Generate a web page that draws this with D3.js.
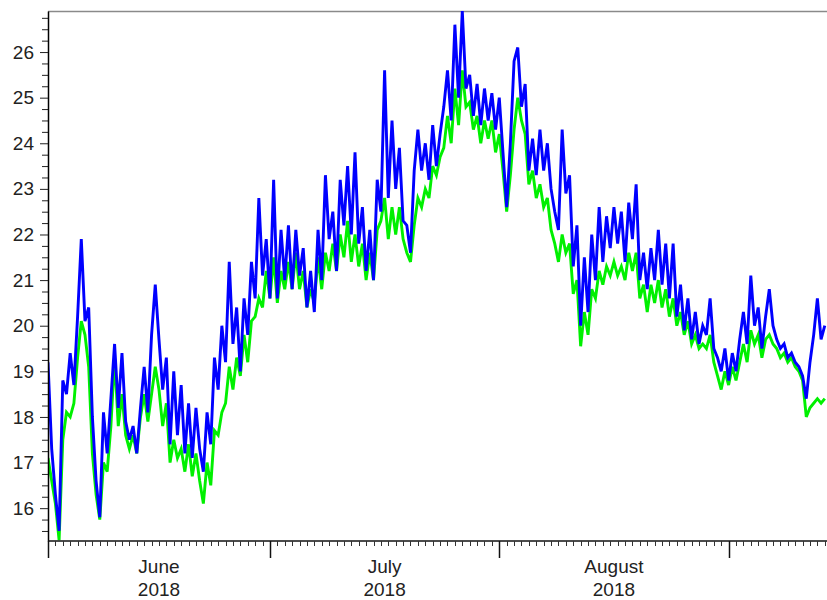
<!DOCTYPE html>
<html>
<head>
<meta charset="utf-8">
<script src="https://cdn.jsdelivr.net/npm/d3@7"></script>
<style>
  html, body { margin: 0; padding: 0; background: #fff; }
  svg { display: block; font-family: Arial, "Liberation Sans", sans-serif; }
</style>
</head>
<body>
<div id="chart"></div>
<script>
// data: two temperature series, one reading every 12 hours from 1 June 2018 (UTC)
var START = Date.UTC(2018, 5, 1);
var STEP_HOURS = 12;

var blueValues = [
  19.2, 17.3, 16.3, 15.5, 18.8, 18.5, 19.4, 18.7, 20.2, 21.9,
  20.1, 20.4, 18.0, 16.6, 15.8, 18.1, 17.2, 18.4, 19.6, 18.2,
  19.4, 17.9, 17.5, 17.8, 17.2, 18.2, 19.1, 18.1, 19.8, 20.9,
  19.7, 18.6, 19.3, 17.4, 19.0, 17.6, 18.7, 17.2, 18.3, 17.1,
  18.2, 17.3, 16.8, 18.1, 17.4, 19.3, 18.6, 20.0, 19.2, 21.4,
  19.6, 20.4, 19.0, 20.6, 19.8, 21.4, 20.6, 22.8, 21.1, 21.9,
  20.6, 23.2, 20.6, 22.1, 21.0, 22.2, 20.8, 22.1, 21.1, 21.7,
  20.4, 21.2, 20.3, 22.1, 21.0, 23.3, 21.9, 22.5, 21.2, 23.2,
  22.2, 23.5, 22.0, 23.8, 21.8, 22.6, 21.2, 22.1, 21.0, 23.2,
  22.5, 25.6, 22.8, 24.5, 23.0, 23.9, 22.3, 22.2, 21.6, 23.4,
  24.3, 23.4, 24.0, 23.2, 24.4, 23.5, 24.2, 24.8, 25.6, 24.5,
  26.6, 25.0, 26.9, 25.2, 25.5, 24.6, 25.3, 24.4, 25.2, 24.5,
  25.1, 24.3, 25.0, 23.8, 22.6, 24.0, 25.8, 26.1, 24.8, 25.3,
  23.4, 24.1, 23.3, 24.3, 23.4, 24.0, 23.0, 22.5, 22.1, 24.3,
  22.9, 23.3, 21.3, 22.2, 20.0, 21.5, 20.3, 22.0, 21.0, 22.6,
  21.4, 22.4, 21.7, 22.6, 21.8, 22.5, 21.4, 22.7, 21.9, 23.1,
  21.0, 21.6, 20.8, 21.7, 21.0, 22.1, 20.9, 21.8, 20.6, 21.8,
  20.2, 20.9, 19.9, 20.6, 19.7, 20.3, 19.6, 20.0, 19.8, 20.6,
  19.5, 19.3, 19.0, 19.5, 18.8, 19.4, 19.0, 19.7, 20.3, 19.6,
  21.1, 20.0, 20.4, 19.5, 20.2, 20.8, 20.0, 19.7, 19.5, 19.6,
  19.3, 19.4, 19.2, 19.1, 18.9, 18.4, 19.2, 19.8, 20.6, 19.7,
  20.0
];

var greenValues = [
  17.1, 16.6, 16.1, 15.3, 17.5, 18.1, 18.0, 18.3, 19.3, 20.1,
  19.8, 19.1, 17.2, 16.3, 15.75, 17.0, 16.8, 17.8, 19.3, 17.8,
  18.5, 17.6, 17.3, 17.6, 17.2, 18.0, 18.5, 17.9, 18.5, 19.1,
  18.6, 17.8, 18.3, 17.0, 17.5, 17.1, 17.3, 16.8, 17.4, 16.7,
  17.2, 16.6, 16.1, 17.0, 16.5, 17.7, 17.6, 18.1, 18.3, 19.1,
  18.6, 19.3, 18.9, 19.8, 19.2, 20.1, 20.2, 20.6, 20.4, 21.2,
  20.6, 21.5, 20.5, 21.2, 20.8, 21.4, 20.8, 21.6, 20.8, 21.2,
  20.4, 20.8, 20.5, 21.5, 20.8, 21.6, 21.2, 21.8, 21.2, 22.0,
  21.5, 22.3, 21.4, 22.0, 21.3, 21.8, 21.0, 21.6, 21.0, 22.1,
  22.3, 22.8, 21.9, 22.6, 22.0, 22.6, 21.9, 21.6, 21.4, 22.2,
  22.8, 22.6, 23.0, 22.8, 23.5, 23.3, 23.7, 23.9, 24.6, 24.0,
  25.2, 24.4, 25.6, 24.8, 24.9, 24.3, 24.6, 24.0, 24.5, 24.1,
  24.5, 23.8, 24.2, 23.4, 22.5, 23.3, 24.3, 25.0, 24.5, 24.2,
  23.1, 23.4, 22.8, 23.1, 22.6, 22.8, 22.1, 21.8, 21.4, 22.0,
  21.6, 21.8, 20.7, 21.0, 19.55, 20.3, 19.8, 20.8, 20.6, 21.2,
  20.9, 21.3, 21.1, 21.4, 21.1, 21.3, 21.0, 21.6, 21.2, 21.6,
  20.6, 20.9, 20.3, 20.9, 20.5, 21.0, 20.4, 20.8, 20.2, 20.6,
  20.0, 20.3, 19.8, 20.1, 19.6, 19.8, 19.5, 19.6, 19.5, 19.8,
  19.2, 18.9, 18.6, 19.0, 18.7, 19.1, 18.8, 19.2, 19.6, 19.2,
  19.9, 19.6, 19.8, 19.3, 19.7, 19.8, 19.6, 19.5, 19.3, 19.4,
  19.2, 19.3, 19.1, 19.0, 18.8, 18.0, 18.2, 18.3, 18.4, 18.3,
  18.4
];

var monthLabels = ['June', 'July', 'August'];
var yearLabel = '2018';
var yTickValues = [16, 17, 18, 19, 20, 21, 22, 23, 24, 25, 26];

// layout
var WIDTH = 827, HEIGHT = 600,
    PLOT_LEFT = 48, PLOT_RIGHT = 827,
    PLOT_TOP = 11, PLOT_BOTTOM = 541,
    Y_MIN = 15.28, Y_MAX = 26.9,
    X_END_DAYS = 105.3;

var svg = d3.select('#chart').append('svg')
    .attr('width', WIDTH)
    .attr('height', HEIGHT);

var DAY = 24 * 3600 * 1000;
var x = d3.scaleUtc()
    .domain([new Date(START), new Date(START + X_END_DAYS * DAY)])
    .range([PLOT_LEFT, PLOT_RIGHT]);

var y = d3.scaleLinear()
    .domain([Y_MIN, Y_MAX])
    .range([PLOT_BOTTOM, PLOT_TOP]);

function toPoints(values) {
    return values.map(function(v, i) {
        return { t: new Date(START + i * STEP_HOURS * 3600 * 1000), v: v };
    });
}

// top frame line
svg.append('line')
    .attr('x1', PLOT_LEFT).attr('x2', PLOT_RIGHT)
    .attr('y1', PLOT_TOP + 0.5).attr('y2', PLOT_TOP + 0.5)
    .attr('stroke', '#8a8a8a')
    .attr('stroke-width', 1.5);

// series
var plot = svg.append('g');
plot.append('clipPath').attr('id', 'clip')
    .append('rect')
    .attr('x', PLOT_LEFT).attr('y', PLOT_TOP)
    .attr('width', PLOT_RIGHT - PLOT_LEFT)
    .attr('height', PLOT_BOTTOM - PLOT_TOP);

var line = d3.line()
    .x(function(d) { return x(d.t); })
    .y(function(d) { return y(d.v); });

plot.append('path')
    .datum(toPoints(greenValues))
    .attr('clip-path', 'url(#clip)')
    .attr('fill', 'none')
    .attr('stroke', '#00f000')
    .attr('stroke-width', 2.9)
    .attr('stroke-linejoin', 'miter')
    .attr('d', line);

plot.append('path')
    .datum(toPoints(blueValues))
    .attr('clip-path', 'url(#clip)')
    .attr('fill', 'none')
    .attr('stroke', '#0000ff')
    .attr('stroke-width', 2.9)
    .attr('stroke-linejoin', 'miter')
    .attr('d', line);

// Y AXIS ---
var minorY = d3.range(Y_MIN, Y_MAX, 0.25).map(function(v) { return Math.ceil(v * 4) / 4; })
    .filter(function(v) { return v % 1 !== 0 && v <= Y_MAX; });

svg.append('g')
    .attr('transform', 'translate(' + PLOT_LEFT + ',0)')
    .call(d3.axisLeft(y).tickValues(minorY).tickSize(6).tickFormat(''))
    .call(function(g) { g.select('.domain').remove(); });

var yAxis = svg.append('g')
    .attr('transform', 'translate(' + PLOT_LEFT + ',0)')
    .call(d3.axisLeft(y).tickValues(yTickValues).tickSize(8).tickPadding(6)
        .tickFormat(d3.format('d')).tickSizeOuter(0));
yAxis.select('.domain').attr('stroke-width', 1.5);
yAxis.selectAll('text')
    .attr('font-size', 19)
    .attr('fill', '#222');

svg.selectAll('.tick line').attr('stroke', '#222');

// X AXIS ---
var xg = svg.append('g')
    .attr('transform', 'translate(0,' + PLOT_BOTTOM + ')');

xg.append('line')
    .attr('x1', PLOT_LEFT).attr('x2', PLOT_RIGHT)
    .attr('y1', 0).attr('y2', 0)
    .attr('stroke', '#111').attr('stroke-width', 1.5);

xg.selectAll('line.minor')
    .data(x.ticks(d3.utcDay.every(1)))
    .enter().append('line')
    .attr('class', 'minor')
    .attr('x1', function(d) { return Math.round(x(d)) + 0.5; })
    .attr('x2', function(d) { return Math.round(x(d)) + 0.5; })
    .attr('y1', 0).attr('y2', 5)
    .attr('stroke', '#333');

var months = x.ticks(d3.utcMonth.every(1));
xg.selectAll('line.major')
    .data(months)
    .enter().append('line')
    .attr('class', 'major')
    .attr('x1', function(d) { return Math.round(x(d)) + 0.5; })
    .attr('x2', function(d) { return Math.round(x(d)) + 0.5; })
    .attr('y1', 0).attr('y2', 17)
    .attr('stroke', '#111').attr('stroke-width', 1.5);

// month labels centred in each month
var labelGroups = xg.selectAll('g.mlabel')
    .data(monthLabels)
    .enter().append('g')
    .attr('class', 'mlabel')
    .attr('transform', function(d, i) {
        var a = d3.utcMonth.offset(new Date(START), i),
            b = d3.utcMonth.offset(new Date(START), i + 1);
        return 'translate(' + (x(a) + x(b)) / 2 + ',0)';
    });

labelGroups.append('text')
    .attr('y', 32)
    .attr('text-anchor', 'middle')
    .attr('font-size', 19)
    .attr('fill', '#222')
    .text(function(d) { return d; });

labelGroups.append('text')
    .attr('y', 55)
    .attr('text-anchor', 'middle')
    .attr('font-size', 19)
    .attr('fill', '#222')
    .text(yearLabel);
</script>
</body>
</html>
